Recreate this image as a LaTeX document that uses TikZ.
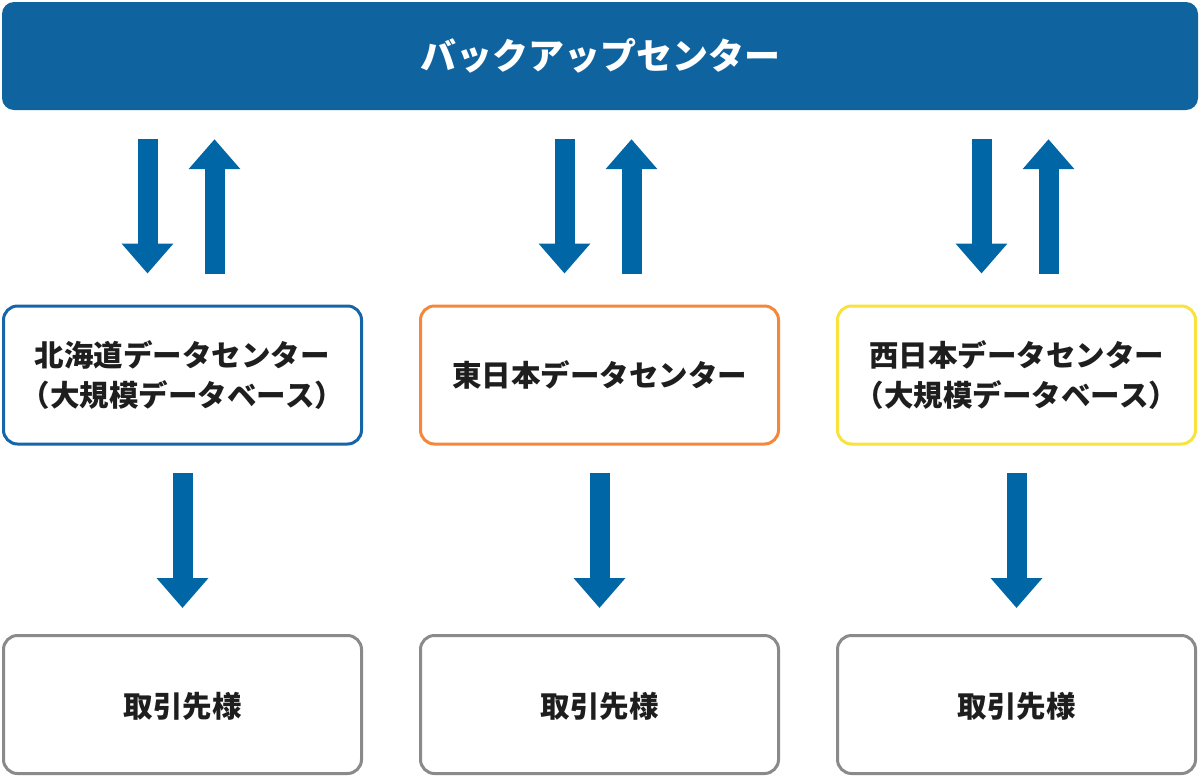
\documentclass[tikz,border=0pt]{standalone}
\usepackage{fontspec}
\setmainfont{Noto Sans CJK JP}
\usetikzlibrary{arrows.meta}

\definecolor{barblue}{HTML}{0F64A0}
\definecolor{arrowblue}{HTML}{0066A6}
\definecolor{lineblue}{HTML}{1565A8}
\definecolor{lineorange}{HTML}{F5873A}
\definecolor{lineyellow}{HTML}{FAE23C}
\definecolor{linegray}{HTML}{8A8A8A}
\definecolor{textdark}{HTML}{1E1E1E}

\begin{document}
\begin{tikzpicture}[x=1pt, y=-1pt,
    centerbox/.style={draw, rectangle, rounded corners=14pt, line width=3pt, minimum width=358pt, minimum height=138pt, align=center, text=textdark, font=\fontsize{29.5}{40}\selectfont\bfseries},
    flow/.style={draw=arrowblue, line width=20pt, -{Triangle[length=30pt, width=50pt]}}]
        \useasboundingbox (0,0) rectangle (1200,780);

        % Backup center
        \node[fill=barblue, rectangle, rounded corners=12pt, minimum width=1196pt, minimum height=108pt, text=white, font=\fontsize{36}{40}\selectfont\bfseries] (top) at (600,56) {バックアップセンター};

        % Data centers
        \node[centerbox, draw=lineblue] (dc1) at (182.5,375) {北海道データセンター\\（大規模データベース）};
        \node[centerbox, draw=lineorange] (dc2) at (599.5,375) {東日本データセンター};
        \node[centerbox, draw=lineyellow] (dc3) at (1016.5,375) {西日本データセンター\\（大規模データベース）};

        % Customers
        \node[centerbox, draw=linegray, text depth=-4pt] (c1) at (182.5,704.5) {取引先様};
        \node[centerbox, draw=linegray, text depth=-4pt] (c2) at (599.5,704.5) {取引先様};
        \node[centerbox, draw=linegray, text depth=-4pt] (c3) at (1016.5,704.5) {取引先様};

        % Backup <-> data centers
        \foreach \i in {1,2,3} {
            \draw[flow, shorten <=29pt, shorten >=31pt] ([xshift=-35pt]dc\i.north |- top.south) -- ([xshift=-35pt]dc\i.north);
            \draw[flow, shorten <=31pt, shorten >=29pt] ([xshift=32pt]dc\i.north) -- ([xshift=32pt]dc\i.north |- top.south);
            \draw[flow, shorten <=27pt, shorten >=26pt] (dc\i.south) -- (c\i.north);
        }
    \end{tikzpicture}
\end{document}
